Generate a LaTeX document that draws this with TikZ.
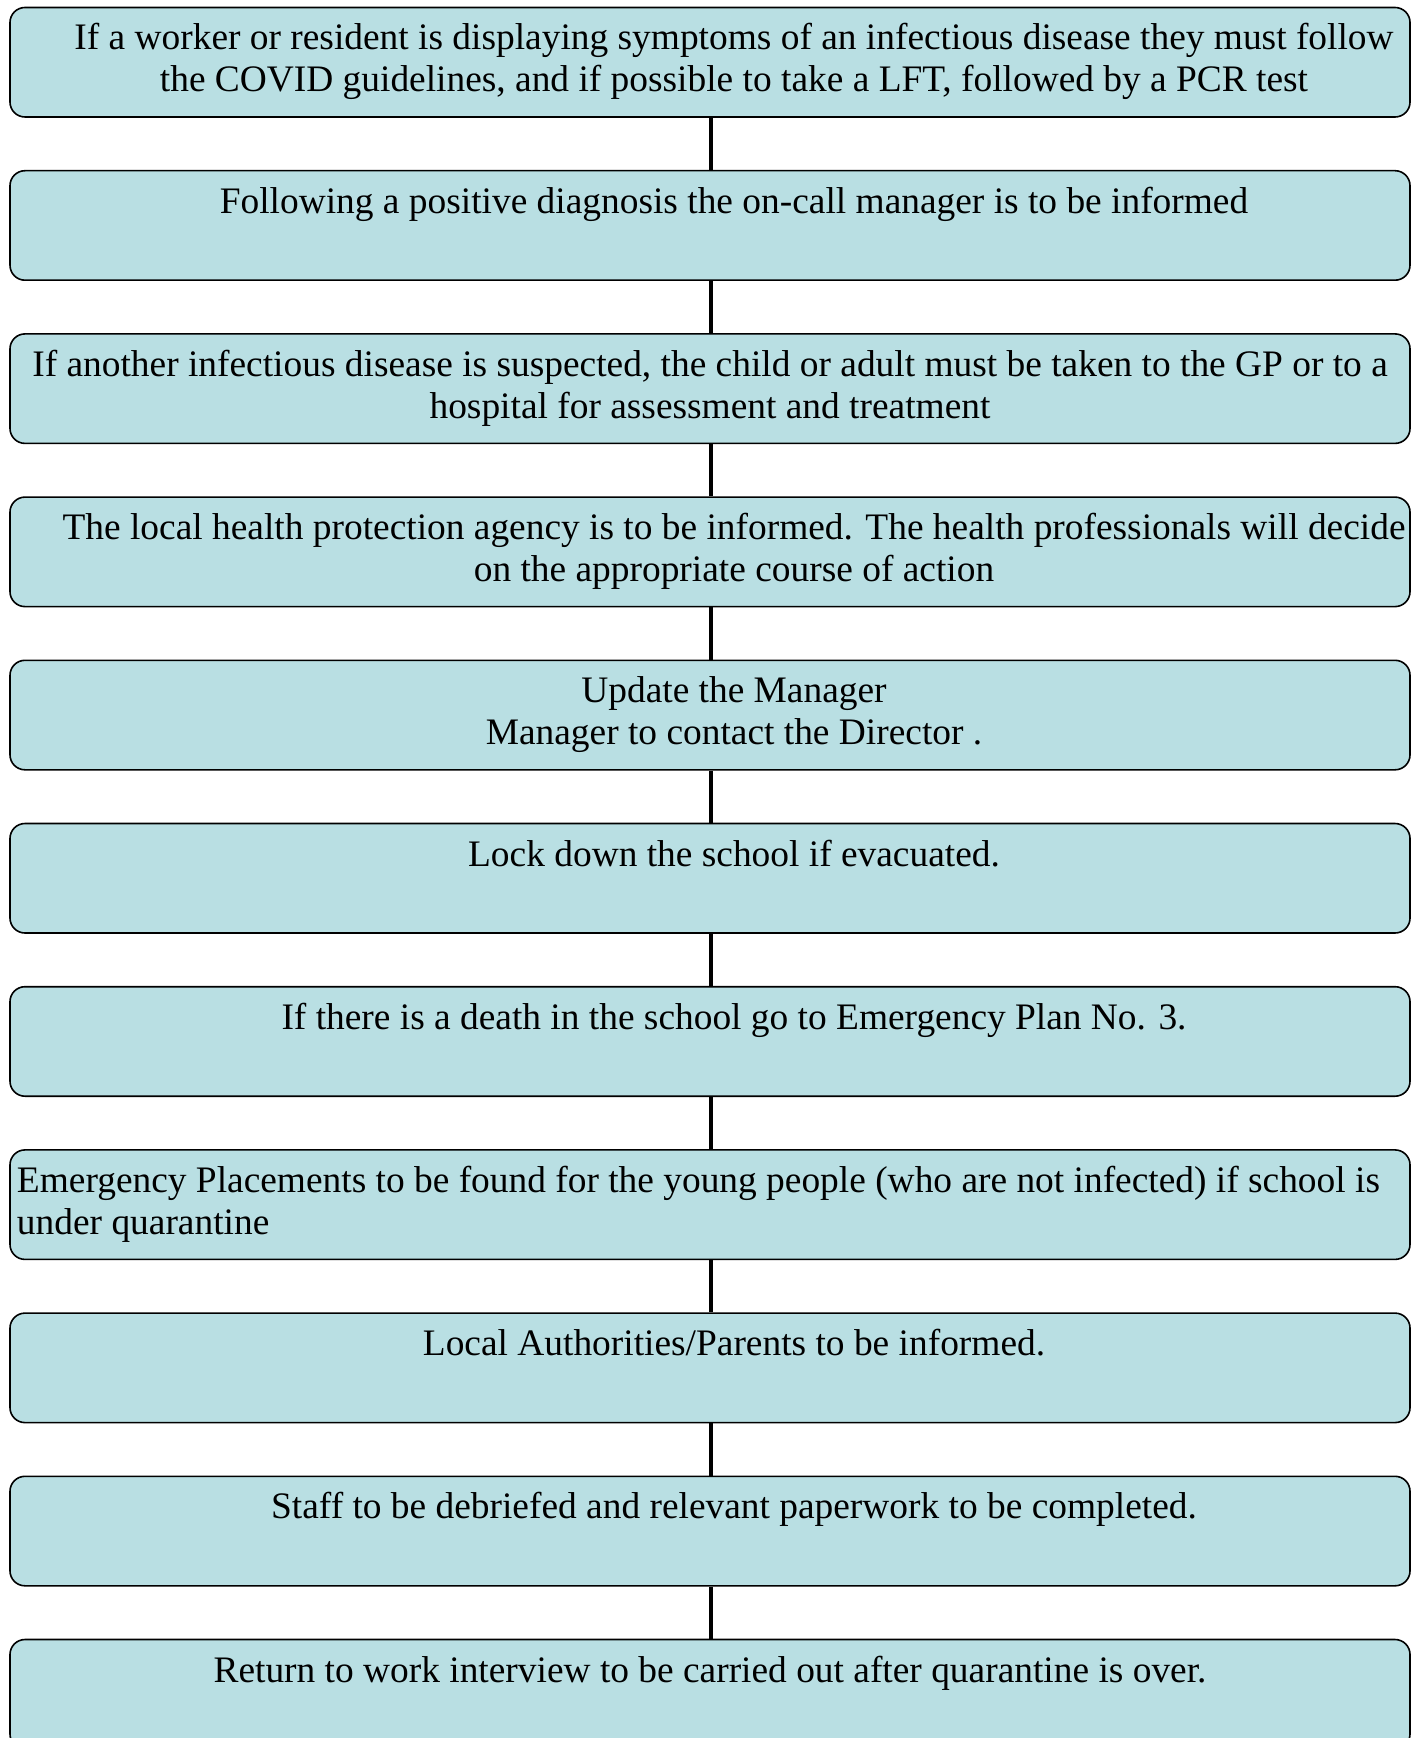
\documentclass[tikz,border=0pt]{standalone}
\usepackage{fontspec}
\setmainfont{Liberation Serif}
\definecolor{boxfill}{RGB}{185,223,227}
\begin{document}
\begin{tikzpicture}[x=0.5pt,y=-0.5pt,
  stepbox/.style={draw=black, line width=0.8pt, fill=boxfill, rounded corners=7.5pt,
    minimum width=700pt, minimum height=54.75pt, inner sep=0pt},
  txt/.style={anchor=base, align=center, inner sep=0pt, font=\fontsize{18.7}{21}\selectfont},
  txtl/.style={anchor=base west, align=left, inner sep=0pt, font=\fontsize{18.7}{21}\selectfont},
  link/.style={line width=2pt, draw=black}]
\useasboundingbox (0,0) rectangle (1419,1738);
\foreach \i in {0,...,10}{
  \node[stepbox] (b\i) at (710, {62.25+163.2*\i}) {};
}
\foreach \i [evaluate=\i as \j using int(\i+1)] in {0,...,9}{
  \draw[link] ([xshift=0.5pt]b\i.south) -- ([xshift=0.5pt]b\j.north);
}
% multi-line nodes: base anchor is the last line, placed 42 px below the first baseline
\node[txt] (t0) at (734, {92+163.2*0}) {If a worker or resident is displaying symptoms of an infectious disease they must follow\\the COVID guidelines, and if possible to take a LFT, followed by a PCR test};
\node[txt] (t1) at (734, {50+163.2*1}) {Following a positive diagnosis the on-call manager is to be informed};
\node[txt] (t2) at (710, {92+163.2*2}) {If another infectious disease is suspected, the child or adult must be taken to the GP or to a\\hospital for assessment and treatment};
\node[txt] (t3) at (734, {92+163.2*3}) {The local health protection agency is to be informed. The health professionals will decide\\on the appropriate course of action};
\node[txt] (t4) at (734, {92+163.2*4}) {Update the Manager\\Manager to contact the Director .};
\node[txt] (t5) at (734, {50+163.2*5}) {Lock down the school if evacuated.};
\node[txt] (t6) at (734, {50+163.2*6}) {If there is a death in the school go to Emergency Plan No. 3.};
\node[txtl] (t7) at (16.6, {92+163.2*7}) {Emergency Placements to be found for the young people (who are not infected) if school is\\under quarantine};
\node[txt] (t8) at (734, {50+163.2*8}) {Local Authorities/Parents to be informed.};
\node[txt] (t9) at (734, {50+163.2*9}) {Staff to be debriefed and relevant paperwork to be completed.};
\node[txt] (t10) at (710, {50+163.2*10}) {Return to work interview to be carried out after quarantine is over.};
\end{tikzpicture}
\end{document}
